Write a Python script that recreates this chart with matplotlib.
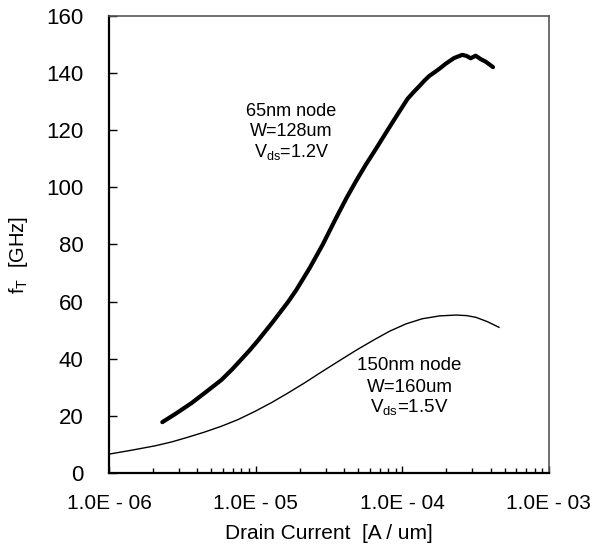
import matplotlib.pyplot as plt
from matplotlib.ticker import FixedLocator, LogLocator, NullFormatter

plt.rcParams.update({
    "font.family": ["Liberation Sans", "DejaVu Sans"],
    "mathtext.fontset": "custom",
    "mathtext.rm": "Liberation Sans",
    "mathtext.it": "Liberation Sans",
})

# 65nm node, W=128um, Vds=1.2V
i_65 = [2.31e-6, 2.88e-6, 3.66e-6, 4.57e-6, 5.85e-6, 6.92e-6, 8.0e-6, 9.12e-6,
        1.038e-5, 1.288e-5, 1.66e-5, 1.89e-5, 2.34e-5, 2.87e-5, 3.54e-5, 4.17e-5,
        4.84e-5, 5.62e-5, 6.62e-5, 7.59e-5, 8.59e-5, 9.77e-5, 1.087e-4, 1.202e-4,
        1.306e-4, 1.413e-4, 1.528e-4, 1.694e-4, 1.82e-4, 1.98e-4, 2.26e-4, 2.57e-4,
        2.75e-4, 2.93e-4, 3.17e-4, 3.43e-4, 3.71e-4, 4.16e-4]
ft_65 = [17.8, 20.9, 24.5, 28.3, 32.6, 36.3, 39.8, 43.0,
         46.4, 52.4, 59.8, 64.0, 71.8, 80.0, 89.3, 96.3,
         102.2, 107.8, 113.5, 118.4, 122.8, 127.3, 131.0, 133.5,
         135.4, 137.3, 139.0, 140.6, 141.8, 143.3, 145.3, 146.4,
         146.0, 145.2, 146.1, 144.9, 144.0, 142.1]

# 150nm node, W=160um, Vds=1.5V
i_150 = [1.0e-6, 1.40e-6, 2.06e-6, 2.69e-6, 3.44e-6, 4.47e-6, 5.87e-6, 7.59e-6,
         9.84e-6, 1.28e-5, 1.65e-5, 2.15e-5, 2.86e-5, 3.75e-5, 4.86e-5, 6.31e-5,
         8.17e-5, 1.06e-4, 1.37e-4, 1.80e-4, 2.33e-4, 2.75e-4, 3.18e-4, 3.80e-4,
         4.57e-4]
ft_150 = [6.6, 7.9, 9.5, 10.9, 12.5, 14.3, 16.4, 18.7,
          21.5, 24.6, 27.9, 31.5, 35.6, 39.4, 43.0, 46.4,
          49.6, 52.2, 54.0, 55.0, 55.3, 55.1, 54.5, 53.0,
          51.0]

x_ticks = [1e-6, 1e-5, 1e-4, 1e-3]
x_labels = ["1.0E - 06", "1.0E - 05", "1.0E - 04", "1.0E - 03"]
y_ticks = [0, 20, 40, 60, 80, 100, 120, 140, 160]

fig = plt.figure(figsize=(5.94, 5.48), dpi=100)
ax = fig.add_axes([0.1835, 0.1369, 0.7405, 0.8339])

ax.plot(i_65, ft_65, color="black", linewidth=3.0,
        solid_capstyle="round", solid_joinstyle="round")
ax.plot(i_150, ft_150, color="black", linewidth=1.0)

ax.set_xscale("log")
ax.set_xlim(1e-6, 1e-3)
ax.set_ylim(0, 160)

ax.xaxis.set_major_locator(FixedLocator(x_ticks))
ax.set_xticklabels(x_labels)
ax.xaxis.set_minor_locator(LogLocator(base=10, subs=range(2, 10)))
ax.xaxis.set_minor_formatter(NullFormatter())
ax.set_yticks(y_ticks)

ax.tick_params(axis="y", which="major", direction="in", length=6,
               width=1, labelsize=16, pad=18.5)
ax.tick_params(axis="x", which="major", direction="in", length=5,
               width=1, labelsize=15, pad=15)
ax.tick_params(axis="x", which="minor", direction="in", length=3.5, width=1)

for side in ["left", "bottom"]:
    ax.spines[side].set_linewidth(1.6)
    ax.spines[side].set_color("black")
for side in ["top", "right"]:
    ax.spines[side].set_linewidth(1.2)
    ax.spines[side].set_color("#555555")

ax.set_xlabel("Drain Current  [A / um]", fontsize=15)
ax.xaxis.set_label_coords(0.5, -0.112)
ax.set_ylabel("f$_\\mathrm{T}$  [GHz]", fontsize=14.5)
ax.yaxis.label.set_va("center")
ax.yaxis.set_label_coords(-0.205, 0.477)

ax.text(1.76e-5, 126.7, "65nm node", ha="center", va="center", fontsize=13)
ax.text(1.76e-5, 119.4, "W=128um", ha="center", va="center", fontsize=13)
ax.text(1.76e-5, 112.4, "V$_\\mathrm{ds}$=1.2V", ha="center", va="center", fontsize=13)

ax.text(1.12e-4, 37.5, "150nm node", ha="center", va="center", fontsize=13.5)
ax.text(1.12e-4, 30.1, "W=160um", ha="center", va="center", fontsize=13.5)
ax.text(1.12e-4, 23.1, "V$_\\mathrm{ds}$=1.5V", ha="center", va="center", fontsize=13.5)

fig.savefig("out.png", dpi=100)
